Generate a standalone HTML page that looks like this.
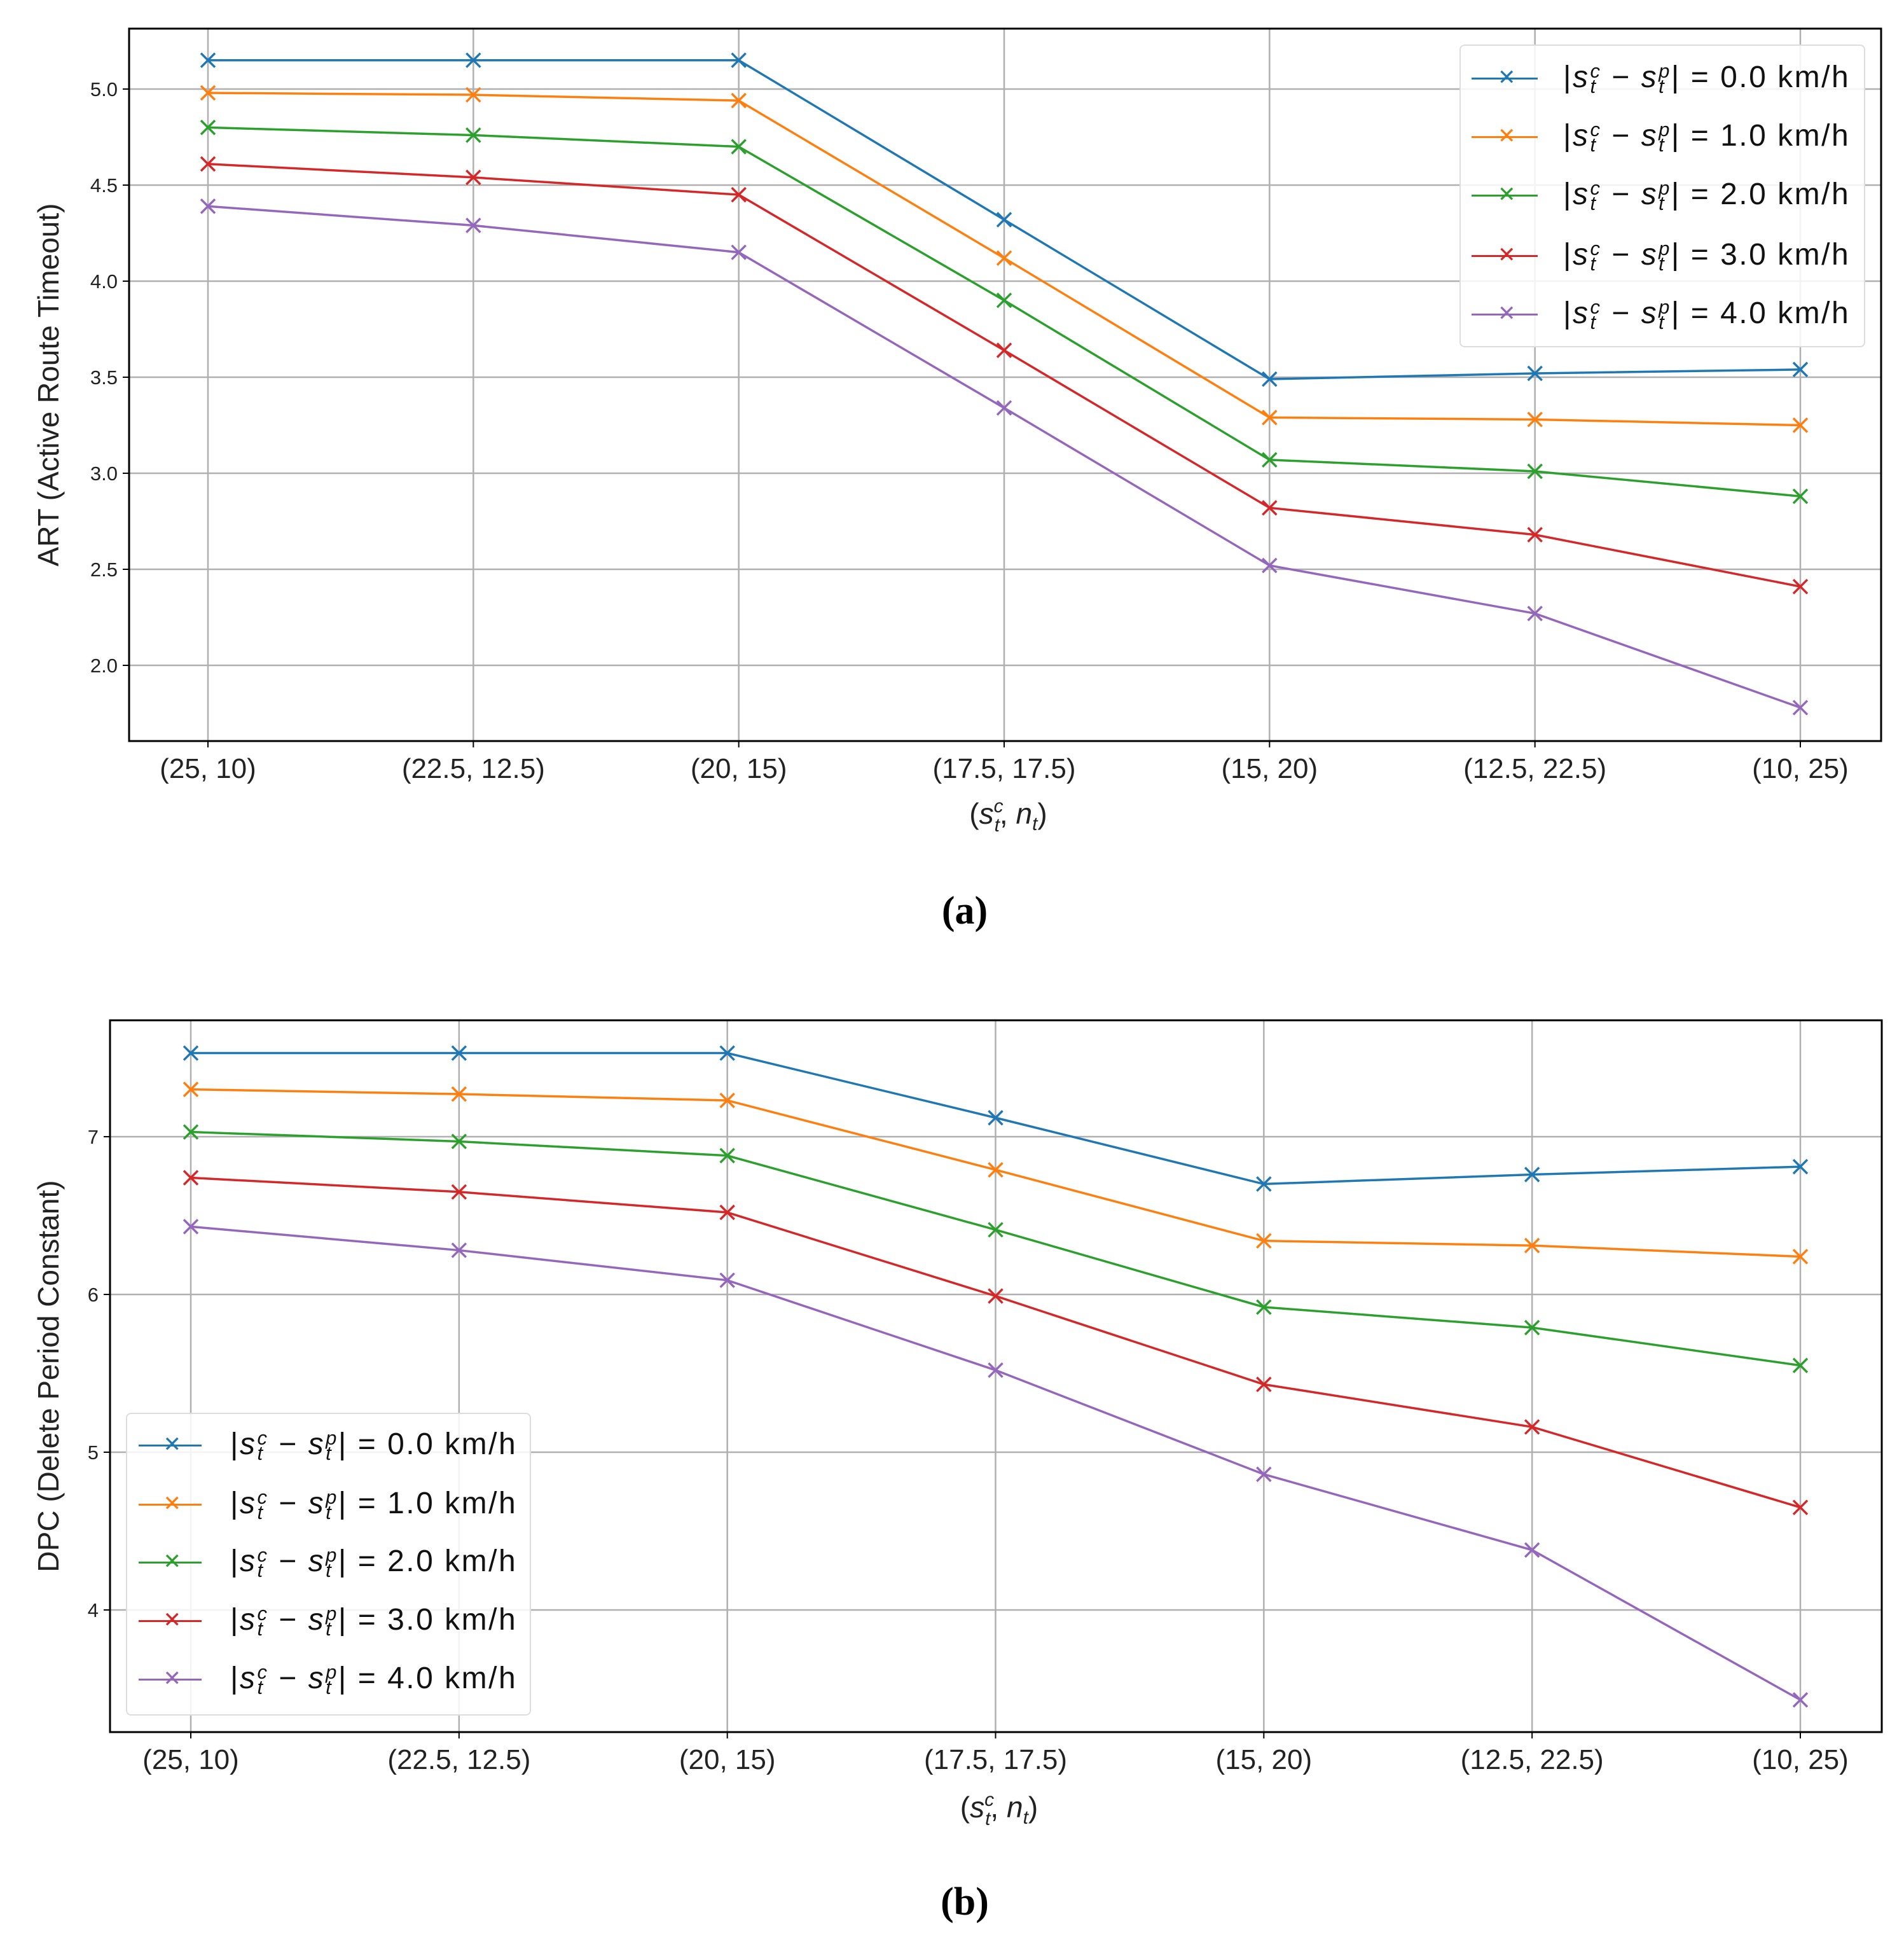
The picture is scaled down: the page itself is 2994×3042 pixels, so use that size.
<!DOCTYPE html>
<html><head><meta charset="utf-8">
<style>
body{margin:0;background:#fff;}
#wrap{position:relative;width:2994px;height:3042px;overflow:hidden;background:#fff;font-family:"Liberation Sans","NanumGothic",sans-serif;}
svg{position:absolute;left:0;top:0;}
.leg{position:absolute;background:rgba(255,255,255,0.85);border:2px solid #ddd;border-radius:8px;box-sizing:border-box;}
.entry{position:absolute;left:0;height:60px;width:100%;}
.entry .ln{position:absolute;height:3px;}
.entry .mk{position:absolute;font-size:34px;line-height:34px;}
.entry .tx{position:absolute;font-size:48px;line-height:48px;white-space:nowrap;color:#111;letter-spacing:2.5px;}
.st{display:inline-block;vertical-align:middle;line-height:24px;font-size:31px;font-style:italic;margin-left:1px;}
.st span{display:block;}
</style></head><body>
<div id="wrap">
<svg id="svg" width="2994" height="3042" xmlns="http://www.w3.org/2000/svg"></svg>
<div id="legA" class="leg" style="left:2295px;top:70px;width:638px;height:476px;"></div>
<div id="legB" class="leg" style="left:198px;top:2221px;width:637px;height:476px;"></div>
</div>
<script>
const categories = ["(25, 10)","(22.5, 12.5)","(20, 15)","(17.5, 17.5)","(15, 20)","(12.5, 22.5)","(10, 25)"];
const seriesLabels = ["0.0","1.0","2.0","3.0","4.0"];
const colors = ["#1f77b4","#ff7f0e","#2ca02c","#d62728","#9467bd"];
const artS0 = [5.15,5.15,5.15,4.32,3.49,3.52,3.54];
const artS1 = [4.98,4.97,4.94,4.12,3.29,3.28,3.25];
const artS2 = [4.80,4.76,4.70,3.90,3.07,3.01,2.88];
const artS3 = [4.61,4.54,4.45,3.64,2.82,2.68,2.41];
const artS4 = [4.39,4.29,4.15,3.34,2.52,2.27,1.78];
const artTicks = [2.0,2.5,3.0,3.5,4.0,4.5,5.0];
const dpcS0 = [7.53,7.53,7.53,7.12,6.70,6.76,6.81];
const dpcS1 = [7.30,7.27,7.23,6.79,6.34,6.31,6.24];
const dpcS2 = [7.03,6.97,6.88,6.41,5.92,5.79,5.55];
const dpcS3 = [6.74,6.65,6.52,5.99,5.43,5.16,4.65];
const dpcS4 = [6.43,6.28,6.09,5.52,4.86,4.38,3.43];
const dpcTicks = [4,5,6,7];

const NS="http://www.w3.org/2000/svg";
const svg=document.getElementById('svg');
function mk(tag,attrs){const e=document.createElementNS(NS,tag);for(const k in attrs)e.setAttribute(k,attrs[k]);svg.appendChild(e);return e;}

function drawPanel(p){
  const xs=i=>p.x0+i*(p.x1-p.x0)/(categories.length-1);
  const ys=v=>p.yRef+(p.vRef-v)*p.ppu;
  p.ticks.forEach(t=>{
    const g=mk('line',{x1:p.left,x2:p.right,y1:ys(t),y2:ys(t),stroke:'#b0b0b0','stroke-width':2.5});
    
    
    const tl=mk('line',{x1:p.left-10,x2:p.left,y1:ys(t),y2:ys(t),stroke:'#000','stroke-width':2});
    
    
    const tx=mk('text',{x:p.left-18,y:ys(t)+11,'text-anchor':'end','font-size':31,fill:'#222','font-family':'Liberation Sans, sans-serif'});
    tx.textContent=p.fmt(t);
    
    
  });
  categories.forEach((c,i)=>{
    const g=mk('line',{x1:xs(i),x2:xs(i),y1:p.top,y2:p.bottom,stroke:'#b0b0b0','stroke-width':2.5});
    
    
    const tl=mk('line',{x1:xs(i),x2:xs(i),y1:p.bottom,y2:p.bottom+10,stroke:'#000','stroke-width':2});
    
    
    const tx=mk('text',{x:xs(i),y:p.bottom+58,'text-anchor':'middle','font-size':44,fill:'#222','font-family':'Liberation Sans, sans-serif'});
    tx.textContent=c;
    
    
  });
  p.series.forEach((s,si)=>{
    const pts=s.map((v,i)=>xs(i)+','+ys(v)).join(' ');
    const pl=mk('polyline',{points:pts,fill:'none',stroke:colors[si],'stroke-width':3.5});
    
    
    s.forEach((v,i)=>{
      const x=xs(i),y=ys(v),d=11;
      const m=mk('path',{d:`M${x-d},${y-d}L${x+d},${y+d}M${x-d},${y+d}L${x+d},${y-d}`,stroke:colors[si],'stroke-width':3.5,fill:'none'});
      
      
    });
  });
  const fr=mk('rect',{x:p.left,y:p.top,width:p.right-p.left,height:p.bottom-p.top,fill:'none',stroke:'#000','stroke-width':3});
  
  
  const yl=mk('text',{x:0,y:0,'text-anchor':'middle','font-size':46,fill:'#222','font-family':'Liberation Sans, sans-serif',transform:`translate(${p.ylx},${(p.top+p.bottom)/2}) rotate(-90)`});
  yl.textContent=p.ylabel;
  
  
  const xl=mk('text',{x:(p.left+p.right)/2+5,y:p.xly,'text-anchor':'middle','font-size':46,fill:'#222','font-family':'Liberation Sans, sans-serif'});
  xl.innerHTML='(<tspan font-style="italic">s</tspan><tspan font-size="30" dy="-18" font-style="italic">c</tspan><tspan font-size="30" dx="-14" dy="30" font-style="italic">t</tspan><tspan dy="-12">, </tspan><tspan font-style="italic">n</tspan><tspan font-size="30" dy="10" font-style="italic">t</tspan><tspan dy="-10">)</tspan>';
  
  
  const cap=mk('text',{x:1517,y:p.capy,'text-anchor':'middle','font-size':62,'font-weight':'bold',fill:'#000','font-family':'Liberation Serif, serif'});
  cap.textContent=p.cap;
  
  
}

drawPanel({left:203,right:2958,top:45,bottom:1165,x0:327,x1:2831,yRef:140,vRef:5.0,ppu:302,
  ticks:artTicks,fmt:t=>t.toFixed(1),series:[artS0,artS1,artS2,artS3,artS4],
  ylabel:'ART (Active Route Timeout)',ylx:92,xly:1295,cap:'(a)',capy:1452});
drawPanel({left:173,right:2959,top:1604,bottom:2723,x0:300,x1:2831,yRef:1787,vRef:7,ppu:248,
  ticks:dpcTicks,fmt:t=>String(t),series:[dpcS0,dpcS1,dpcS2,dpcS3,dpcS4],
  ylabel:'DPC (Delete Period Constant)',ylx:92,xly:2857,cap:'(b)',capy:3010});

function buildLegend(id,rows,lineL,lineW,textL){
  const L=document.getElementById(id);
  rows.forEach((ry,i)=>{
    const e=document.createElement('div');
    e.className='entry';
    
    
    e.style.top=(ry-30)+'px';
    e.innerHTML=`<div class="ln" style="left:${lineL}px;width:${lineW}px;top:29px;background:${colors[i]}"></div>`+
      `<div class="mk" style="left:${lineL+lineW/2-11}px;top:12px;color:${colors[i]}">&#x2715;</div>`+
      `<div class="tx" style="left:${textL}px;top:5px">|<i>s</i><span class="st"><span>c</span><span>t</span></span> &minus; <i>s</i><span class="st"><span>p</span><span>t</span></span>| = ${seriesLabels[i]} km/h</div>`;
    L.appendChild(e);
  });
}
buildLegend('legA',[51,143,235,330,422],17,104,161);
buildLegend('legB',[49,142,233,325,417],18,99,162);
</script>
</body></html>
